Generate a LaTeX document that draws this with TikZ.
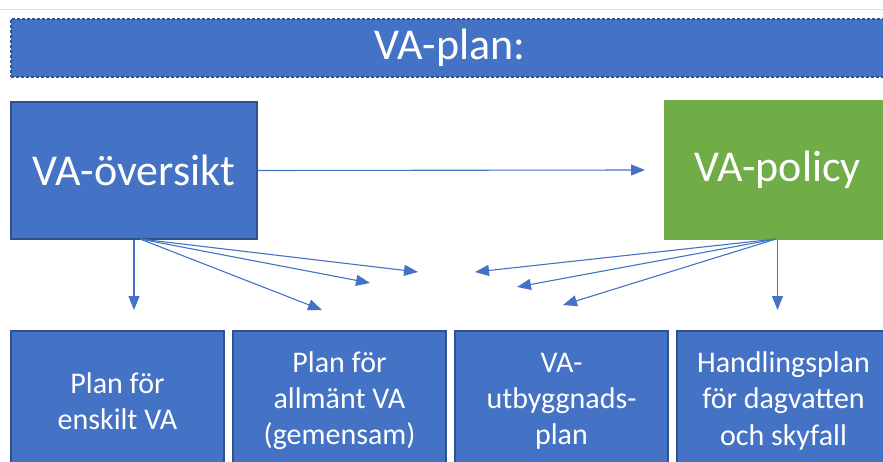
\documentclass[tikz,border=0pt]{standalone}
\usepackage{fontspec}
\setmainfont{Carlito}
\usetikzlibrary{arrows.meta}
\definecolor{vablue}{HTML}{4472C4}
\definecolor{vaedge}{HTML}{2F528F}
\definecolor{vagreen}{HTML}{70AD47}
\tikzstyle{bigbox}=[rectangle, fill=vablue, draw=vaedge, line width=1.2pt, text=white, font=\fontsize{44}{50}\selectfont]
\tikzstyle{planbox}=[rectangle, fill=vablue, draw=vaedge, line width=1.2pt, text=white, align=center, minimum width=213pt, minimum height=140pt, font=\fontsize{30}{36}\selectfont]
\tikzstyle{link}=[draw=vablue, line width=1.1pt, -{Triangle[length=14pt,width=11pt]}]

\begin{document}
\begin{tikzpicture}[x=1pt, y=-1pt]
  \useasboundingbox (0,0) rectangle (883,462);
  \clip (0,0) rectangle (883,462);
  \draw[black!12, line width=1pt] (0,10) -- (883,10);
  % title bar
  \node[bigbox, dashed, dash pattern=on 3pt off 2pt, minimum width=878pt, minimum height=58pt] (title) at (450,48) {VA-plan:};
  % upper boxes
  \node[bigbox, minimum width=246pt, minimum height=137pt] (oversikt) at (134,170.5) {VA-översikt};
  \node[bigbox, fill=vagreen, draw=vagreen, minimum width=225pt, minimum height=138pt] (policy) at (777.5,170) {VA-policy};
  % lower boxes
  \node[planbox] (enskilt) at (117.5,401) {Plan för\\enskilt VA};
  \node[planbox] (allmant) at (339.5,401) {Plan för\\allmänt VA\\(gemensam)};
  \node[planbox] (utbyggnad) at (561.5,401) {VA-\\utbyggnads-\\plan};
  \node[planbox] (dagvatten) at (783.5,401) {Handlingsplan\\för dagvatten\\och skyfall};
  % free arrow ends
  \coordinate (ovfoot) at (140,239);
  \coordinate (pofoot) at (776,239);
  \coordinate (oa) at (134,310);
  \coordinate (ob) at (322,310);
  \coordinate (oc) at (370,283);
  \coordinate (od) at (418,272);
  \coordinate (pa) at (475,272);
  \coordinate (pb) at (517,287);
  \coordinate (pc) at (563,305);
  \coordinate (pd) at (777.5,310);

  \draw[link] (oversikt.east) -- (645,170);
  \draw[link] (oversikt.south) -- (oa);
  \draw[link] (ovfoot) -- (ob);
  \draw[link] (ovfoot) -- (oc);
  \draw[link] (ovfoot) -- (od);
  \draw[link] (pofoot) -- (pa);
  \draw[link] (pofoot) -- (pb);
  \draw[link] (pofoot) -- (pc);
  \draw[link] (policy.south) -- (pd);
\end{tikzpicture}
\end{document}
